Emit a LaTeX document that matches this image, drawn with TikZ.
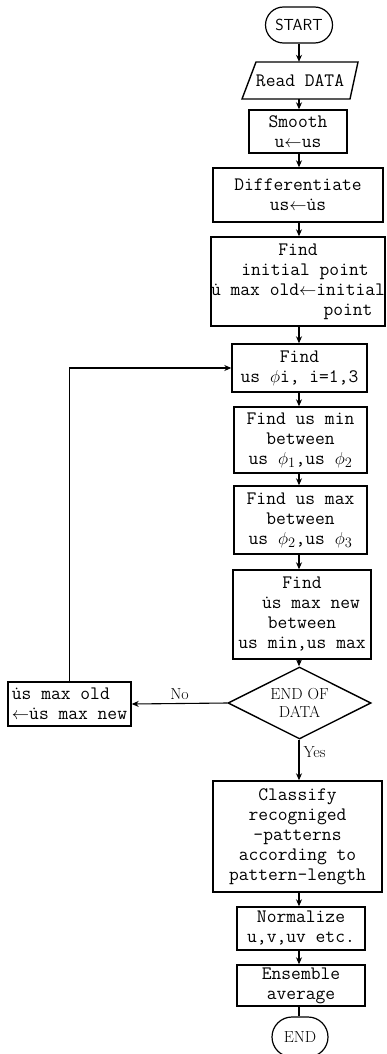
\documentclass[tikz,border=0pt]{standalone}
\usetikzlibrary{arrows.meta,shapes.geometric,shapes.misc}
\begin{document}
\begin{tikzpicture}[x=1pt,y=-1pt,
  every node/.style={font=\fontsize{19}{20}\selectfont\ttfamily, inner sep=0pt},
  box/.style={draw, line width=1.4pt, rectangle, align=center},
  conn/.style={line width=1.1pt},
  arr/.style={conn, -{Stealth[length=7pt,width=6pt]}},
  term/.style={draw, line width=1.2pt, rounded rectangle},
  lbl/.style={font=\rmfamily\fontsize{16}{18}\selectfont}]
\useasboundingbox (0,0) rectangle (386,1054);
\coordinate (X) at (299,0);
% start
\node[term, minimum width=67pt, minimum height=36pt, font=\sffamily\fontsize{16}{18}\selectfont] (start) at (299,25) {START};
% read data (parallelogram)
\node[minimum width=100pt, minimum height=37pt] (read) at (300,80.5) {Read DATA};
\draw[line width=1.4pt] (242,99) -- (256,62) -- (358,62) -- (350,99) -- cycle;
% process boxes
\node[box, minimum width=98pt, minimum height=43pt] (smooth) at (298,131.5) {Smooth\\u$\leftarrow$us};
\node[box, minimum width=170pt, minimum height=54pt] (diff) at (298,195) {Differentiate\\us$\leftarrow$\.us};
\node[box, minimum width=170pt, minimum height=89pt] (init) at (298,281.5)
  {Find\\\hspace*{14pt}initial point\\\.u max old$\leftarrow$initial\\\hspace*{100pt}point};
\node[box, minimum width=135pt, minimum height=48pt] (phi) at (299.5,368) {Find\\us $\phi$i, i=1,3};
\node[box, minimum width=133pt, minimum height=66pt] (umin) at (300.5,440) {Find us min\\between\\us $\phi_1$,us $\phi_2$};
\node[box, minimum width=133pt, minimum height=68pt] (umax) at (300.5,520) {Find us max\\between\\us $\phi_2$,us $\phi_3$};
\node[box, minimum width=138pt, minimum height=89pt] (unew) at (302,614.5)
  {Find\\\hspace*{18pt}\.us max new\\between\\us min,us max};
\node[draw, diamond, aspect=2, line width=1.4pt, minimum width=143pt, minimum height=72pt, align=center, lbl] (dec) at (299.5,703) {END OF\\DATA};
\node[box, minimum width=123pt, minimum height=44pt, align=left] (upd) at (69.5,704) {\.us max old\\$\leftarrow$\.us max new};
\node[box, minimum width=169pt, minimum height=111pt] (cls) at (297.5,836.5)
  {Classify\\recogniged\\-patterns\\according to\\pattern-length};
\node[box, minimum width=128pt, minimum height=43pt] (norm) at (301,928.5) {Normalize\\u,v,uv etc.};
\node[box, minimum width=128pt, minimum height=41pt] (ens) at (301,985.5) {Ensemble\\average};
\node[term, minimum width=56pt, minimum height=40pt, lbl] (end) at (300,1037) {END};
% connectors
\draw[arr] (start.south -| X) -- (read.north -| X);
\draw[arr] (read.south -| X) -- (smooth.north -| X);
\draw[arr] (smooth.south -| X) -- (diff.north -| X);
\draw[arr] (diff.south -| X) -- (init.north -| X);
\draw[arr] (init.south -| X) -- (phi.north -| X);
\draw[arr] (phi.south -| X) -- (umin.north -| X);
\draw[arr] (umin.south -| X) -- (umax.north -| X);
\draw[arr] (umax.south -| X) -- (unew.north -| X);
\draw[arr] (unew.south -| X) -- (dec.north -| X);
\draw[arr] (dec.south -| X) -- node[pos=0.3, right=4pt, lbl] {Yes} (cls.north -| X);
\draw[arr] (dec.west) -- node[above=3pt, lbl] {No} (upd.east);
\draw[arr] (upd.north) |- (phi.west);
\draw[arr] (cls.south -| X) -- (norm.north -| X);
\draw[arr] (norm.south -| X) -- (ens.north -| X);
\draw[conn] (ens.south -| X) -- (end.north -| X);
\end{tikzpicture}
\end{document}
